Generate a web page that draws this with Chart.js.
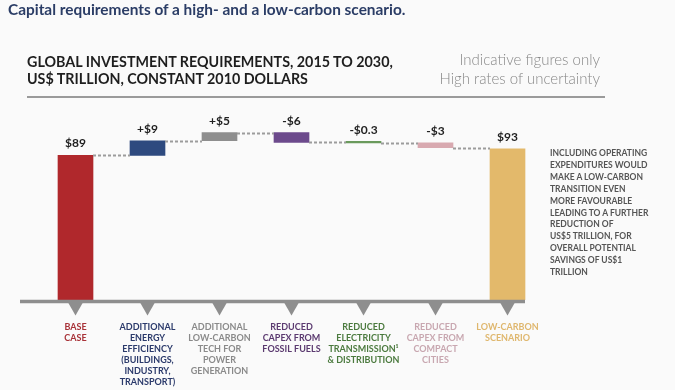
<!DOCTYPE html>
<html>
<head>
<meta charset="utf-8">
<script src="https://cdn.jsdelivr.net/npm/chart.js@4"></script>
<style>
  body { margin: 0; background: #fafafa; font-family: Lato, sans-serif; }
  #wrap { position: relative; width: 675px; height: 390px; overflow: hidden; }
  #chart { position: absolute; left: 0; top: 0; }
  .title { position: absolute; left: 8px; top: 0px; font-size: 15.4px; font-weight: bold; color: #2b3d66; white-space: nowrap; }
  .header { position: absolute; left: 27px; top: 53px; font-size: 14.3px; font-weight: bold; color: #1e1e1e; line-height: 17px; white-space: nowrap; }
  .caveat { position: absolute; right: 75px; top: 50px; font-size: 15px; font-weight: 300; color: #888; line-height: 19px; text-align: right; white-space: nowrap; }
  .rule { position: absolute; left: 27px; top: 96px; width: 578px; height: 2px; background: #9a9a9a; }
  .note { position: absolute; left: 550px; top: 148px; font-size: 8.5px; font-weight: bold; color: #555; line-height: 11.9px; white-space: nowrap; }
</style>
</head>
<body>
<div id="wrap">
  <canvas id="chart" width="675" height="390"></canvas>
  <div class="title">Capital requirements of a high- and a low-carbon scenario.</div>
  <div class="header">GLOBAL INVESTMENT REQUIREMENTS, 2015 TO 2030,<br>US$ TRILLION, CONSTANT 2010 DOLLARS</div>
  <div class="caveat">Indicative figures only<br>High rates of uncertainty</div>
  <div class="rule"></div>
  <div class="note">INCLUDING OPERATING<br>EXPENDITURES WOULD<br>MAKE A LOW-CARBON<br>TRANSITION EVEN<br>MORE FAVOURABLE<br>LEADING TO A FURTHER<br>REDUCTION OF<br>US$5 TRILLION, FOR<br>OVERALL POTENTIAL<br>SAVINGS OF US$1<br>TRILLION</div>
</div>
<script>
const categories = [
    ['BASE', 'CASE'],
    ['ADDITIONAL', 'ENERGY', 'EFFICIENCY', '(BUILDINGS,', 'INDUSTRY,', 'TRANSPORT)'],
    ['ADDITIONAL', 'LOW-CARBON', 'TECH FOR', 'POWER', 'GENERATION'],
    ['REDUCED', 'CAPEX FROM', 'FOSSIL FUELS'],
    ['REDUCED', 'ELECTRICITY', 'TRANSMISSION\u00b9', '& DISTRIBUTION'],
    ['REDUCED', 'CAPEX FROM', 'COMPACT', 'CITIES'],
    ['LOW-CARBON', 'SCENARIO']
];
const changes = [89, 9, 5, -6, -0.3, -3, 93];
const isTotal = [true, false, false, false, false, false, true];
const valueLabels = ['$89', '+$9', '+$5', '-$6', '-$0.3', '-$3', '$93'];
const barColors = ['#b0282c', '#2e4a7f', '#8e8e8e', '#6c4a8c', '#6a9a5c', '#d8a9b0', '#e3b96b'];
const labelColors = ['#a83238', '#2b3a6b', '#8a8a8a', '#5b3a70', '#4b7a3e', '#c8a7b0', '#dfb76e'];

document.addEventListener('DOMContentLoaded', function () {

    /* waterfall ranges */
    let running = 0;
    const ranges = [];
    const levels = [];
    changes.forEach((v, i) => {
        if (isTotal[i]) {
            ranges.push([0, v]);
            running = v;
        } else {
            ranges.push([running, running + v]);
            running += v;
        }
        levels.push(running);
    });

    /* connectors, value labels, axis line */
    const waterfallExtras = {
        id: 'waterfallExtras',
        afterDatasetsDraw(chart) {
            const ctx = chart.ctx;
            const y = chart.scales.y;
            const bars = chart.getDatasetMeta(0).data;

            ctx.save();
            ctx.strokeStyle = '#9c9c9c';
            ctx.lineWidth = 2;
            ctx.setLineDash([3, 2]);
            for (let i = 0; i < bars.length - 1; i++) {
                const py = Math.round(y.getPixelForValue(levels[i])) + 0.5;
                ctx.beginPath();
                ctx.moveTo(bars[i].x + bars[i].width / 2, py);
                ctx.lineTo(bars[i + 1].x - bars[i + 1].width / 2, py);
                ctx.stroke();
            }
            ctx.setLineDash([]);

            ctx.font = 'bold 12px Lato';
            ctx.fillStyle = '#222';
            ctx.textAlign = 'center';
            ctx.textBaseline = 'bottom';
            bars.forEach((b, i) => {
                const top = y.getPixelForValue(Math.max(ranges[i][0], ranges[i][1]));
                ctx.fillText(valueLabels[i], b.x, top - 6);
            });

            const axisY = chart.chartArea.bottom + 1.5;
            const last = bars[bars.length - 1];
            ctx.strokeStyle = '#8e8e8e';
            ctx.lineWidth = 3.5;
            ctx.beginPath();
            ctx.moveTo(20, axisY);
            ctx.lineTo(last.x + last.width / 2, axisY);
            ctx.stroke();

            ctx.fillStyle = '#8e8e8e';
            bars.forEach(b => {
                ctx.beginPath();
                ctx.moveTo(b.x - 8, axisY);
                ctx.lineTo(b.x + 8, axisY);
                ctx.lineTo(b.x, axisY + 14);
                ctx.closePath();
                ctx.fill();
            });
            ctx.restore();
        }
    };

    const ctxBar = document.getElementById('chart').getContext('2d');
    new Chart(ctxBar, {
        type: 'bar',
        data: {
            labels: categories,
            datasets: [{
                data: ranges,
                backgroundColor: barColors,
                barThickness: 35,
                minBarLength: 1.5,
                borderSkipped: false
            }]
        },
        options: {
            responsive: false,
            animation: false,
            layout: { padding: { left: 39.5, right: 131.5, top: 105, bottom: 0 } },
            plugins: { legend: { display: false }, tooltip: { enabled: false } },
            scales: {
                x: {
                    grid: { display: false, drawTicks: false },
                    border: { display: false },
                    afterFit: s => { s.height = 90; },
                    ticks: {
                        autoSkip: false,
                        maxRotation: 0,
                        padding: 22,
                        font: { family: 'Lato', size: 9, weight: 'bold', lineHeight: 1.22 },
                        color: c => labelColors[c.index]
                    }
                },
                y: { display: false, min: 0, max: 120 }
            }
        },
        plugins: [waterfallExtras]
    });

});
</script>
</body>
</html>
